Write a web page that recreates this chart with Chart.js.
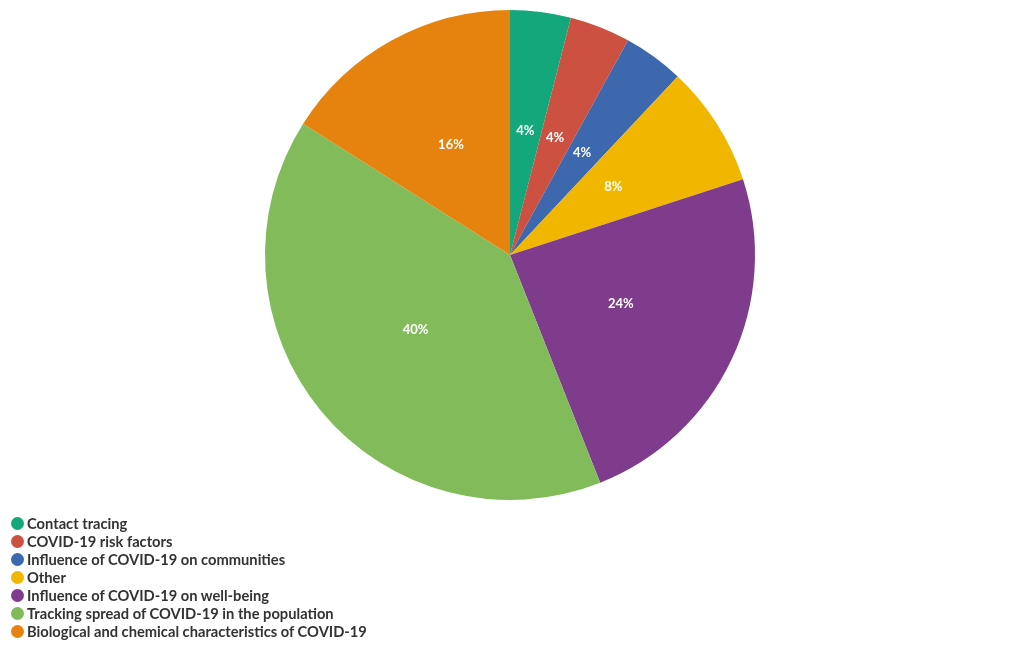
<!DOCTYPE html>
<html><head><meta charset="utf-8">
<script src="https://cdn.jsdelivr.net/npm/chart.js@4"></script>
<style>
html,body{margin:0;padding:0;background:#fff;}
#wrap{position:relative;width:1020px;height:650px;}
#legend{position:absolute;left:11px;top:514px;font-family:Lato,sans-serif;font-weight:bold;font-size:14.7px;color:#333;}
.item{height:18px;line-height:18px;display:flex;align-items:center;}
.dot{width:13px;height:13px;border-radius:50%;margin-right:3px;flex:none;}
</style></head>
<body><div id="wrap"><canvas id="c" width="1020" height="650"></canvas><div id="legend"></div></div>
<script>
const categories = ["Contact tracing","COVID-19 risk factors","Influence of COVID-19 on communities","Other","Influence of COVID-19 on well-being","Tracking spread of COVID-19 in the population","Biological and chemical characteristics of COVID-19"];
const values = [4,4,4,8,24,40,16];
const colors = ["#14a77b","#cc5140","#3d68ae","#f1b700","#7f3c8d","#82bb5a","#e6830f"];

const labelPlugin = {
  id:'sliceLabels',
  afterDatasetsDraw(chart){
    const ctx = chart.ctx;
    const meta = chart.getDatasetMeta(0);
    const total = values.reduce((a,b)=>a+b,0);
    ctx.save();
    ctx.font = 'bold 13px Lato, sans-serif';
    ctx.fillStyle = '#fff';
    ctx.textAlign = 'center';
    ctx.textBaseline = 'middle';
    meta.data.forEach((arc,i)=>{
      const p = arc.getProps(['x','y','startAngle','endAngle','outerRadius'],true);
      const mid = (p.startAngle+p.endAngle)/2;
      const r = p.outerRadius*0.5;
      ctx.fillText(Math.round(values[i]/total*100)+'%', p.x+Math.cos(mid)*r, p.y+Math.sin(mid)*r-3);
    });
    ctx.restore();
  }
};

new Chart(document.getElementById('c'),{
  type:'pie',
  data:{labels:categories,datasets:[{data:values,backgroundColor:colors,borderWidth:0}]},
  options:{
    responsive:false,animation:false,
    layout:{padding:{top:10,bottom:150}},
    plugins:{legend:{display:false},tooltip:{enabled:false}}
  },
  plugins:[labelPlugin]
});

const lg = document.getElementById('legend');
categories.forEach((c,i)=>{
  const d=document.createElement('div');d.className='item';
  const s=document.createElement('span');s.className='dot';s.style.background=colors[i];
  const t=document.createElement('span');t.textContent=c;
  d.appendChild(s);d.appendChild(t);lg.appendChild(d);
});
</script></body></html>
